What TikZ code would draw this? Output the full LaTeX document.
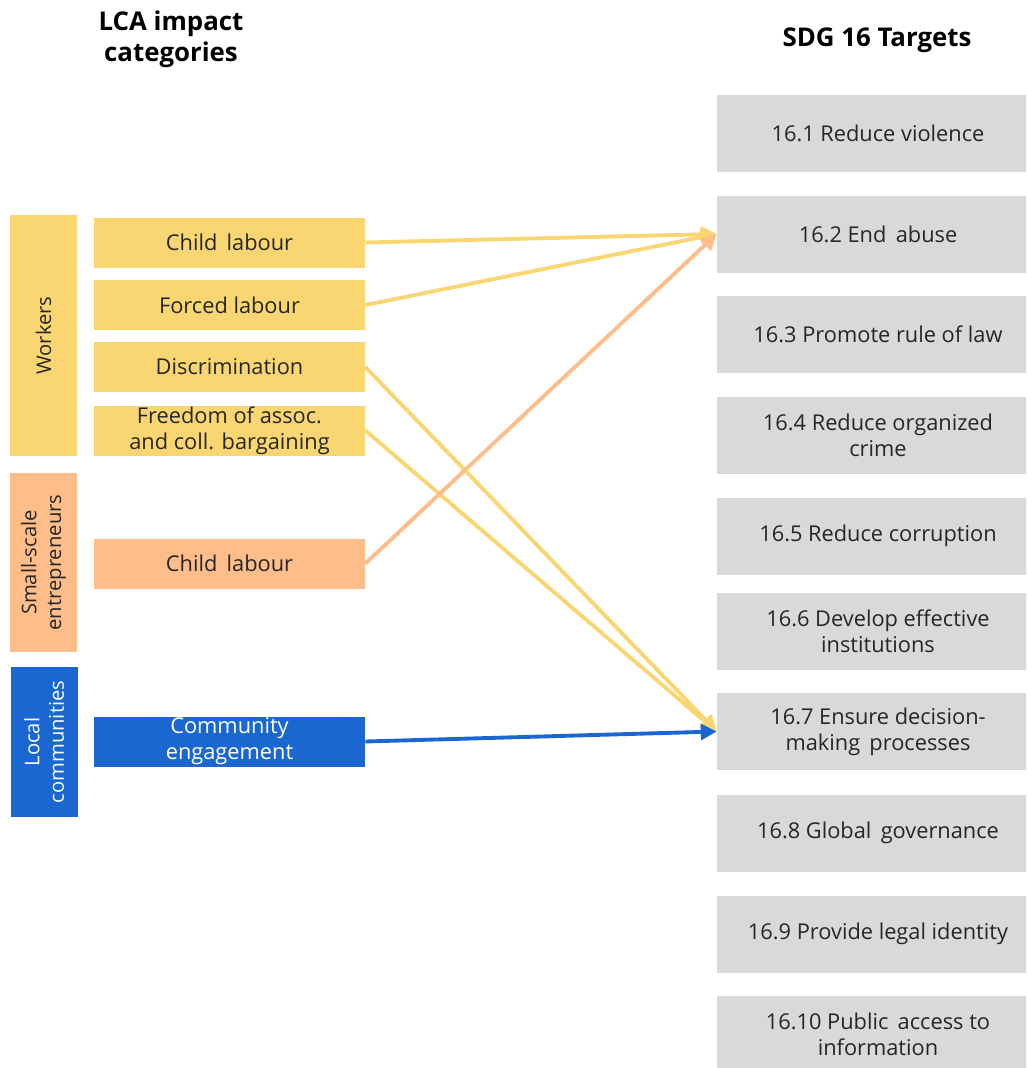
\documentclass[tikz,border=0pt]{standalone}
\usepackage{fontspec}
\setmainfont{Open Sans}
\usetikzlibrary{positioning, arrows.meta}

\definecolor{wyellow}{HTML}{F9D671}
\definecolor{sorange}{HTML}{FFBD89}
\definecolor{lblue}{HTML}{1A67D2}
\definecolor{tgray}{HTML}{D9D9D9}
\definecolor{txt}{HTML}{262626}

\tikzset{
	group/.style={minimum height=1.34cm, inner sep=0pt, font=\fontsize{11.5}{14}\selectfont, text=txt, align=center, rotate=90},
	impact/.style={minimum width=5.42cm, minimum height=1cm, inner sep=0pt, font=\fontsize{12.4}{14.8}\selectfont, text=txt, align=center},
	target/.style={fill=tgray, minimum width=6.44cm, minimum height=1.54cm, inner sep=0pt, font=\fontsize{12.4}{14.8}\selectfont, text=txt, align=center},
	title/.style={font=\bfseries\fontsize{14.7}{17.6}\selectfont, align=center},
	link/.style={line width=2.2pt, -{Triangle[length=9pt, width=9pt]}},
}

\begin{document}
\begin{tikzpicture}
	\clip (0,0) rectangle (20.52,-21.36);
	\fill[white] (0,0) rectangle (20.52,-21.36);

	% headings
	\node[title] (lca) at (3.42,-0.78) {LCA impact\\categories};
	\node[title] (sdg) at (17.54,-0.80) {SDG 16 Targets};

	% stakeholder groups
	\node[group, fill=wyellow, minimum width=4.82cm] (workers) at (0.87,-6.71) {Workers};
	\node[group, fill=sorange, minimum width=3.58cm] (small) at (0.87,-11.25) {Small-scale\\entrepreneurs};
	\node[group, fill=lblue, minimum width=3.0cm, text=white] (local) at (0.88,-14.84) {Local\\communities};

	% impact categories
	\node[impact, fill=wyellow] (child) at (4.59,-4.85) {Child\, labour};
	\node[impact, fill=wyellow] (forced) at (4.59,-6.10) {Forced labour};
	\node[impact, fill=wyellow] (discr) at (4.59,-7.34) {Discrimination};
	\node[impact, fill=wyellow] (freedom) at (4.59,-8.61) {Freedom of assoc.\\and coll. bargaining};
	\node[impact, fill=sorange] (childse) at (4.59,-11.27) {Child\, labour};
	\node[impact, fill=lblue, text=white] (community) at (4.59,-14.83) {Community\\engagement};

	% SDG 16 targets
	\node[target] (t1) at (17.56,-2.67) {16.1 Reduce violence};
	\node[target] (t2) at (17.56,-4.68) {16.2 End\, abuse};
	\node[target] (t3) at (17.56,-6.69) {16.3 Promote rule of law};
	\node[target] (t4) at (17.56,-8.70) {16.4 Reduce organized\\crime};
	\node[target] (t5) at (17.56,-10.72) {16.5 Reduce corruption};
	\node[target] (t6) at (17.56,-12.62) {16.6 Develop effective\\institutions};
	\node[target] (t7) at (17.56,-14.63) {16.7 Ensure decision-\\making\, processes};
	\node[target] (t8) at (17.56,-16.66) {16.8 Global\, governance};
	\node[target] (t9) at (17.56,-18.68) {16.9 Provide legal identity};
	\node[target] (t10) at (17.56,-20.68) {16.10 Public\, access to\\information};

	\path
		(child.east) edge [link, draw=wyellow] (t2.west)
		(forced.east) edge [link, draw=wyellow] (t2.west)
		(discr.east) edge [link, draw=wyellow] (t7.west)
		(freedom.east) edge [link, draw=wyellow] (t7.west)
		(childse.east) edge [link, draw=sorange] (t2.west)
		(community.east) edge [link, draw=lblue] (t7.west)
	;
\end{tikzpicture}
\end{document}
